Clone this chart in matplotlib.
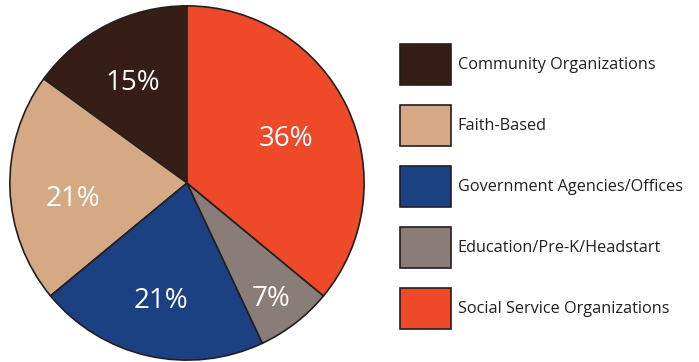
import matplotlib.pyplot as plt
import numpy as np

# data (legend order)
labels = ["Community Organizations", "Faith-Based", "Government Agencies/Offices",
          "Education/Pre-K/Headstart", "Social Service Organizations"]
shares = [15, 21, 21, 7, 36]
colors = ["#361d16", "#d6a985", "#1c4183", "#8a7d78", "#ee4a29"]

# where each percent label sits: fraction of radius, turn from slice middle (deg)
label_dist = [0.64, 0.65, 0.68, 0.81, 0.61]
label_turn = [1.5, 6.0, 0.3, -1.8, -1.2]

plt.rcParams['font.family'] = ['Open Sans', 'DejaVu Sans']

fig = plt.figure(figsize=(6.99, 3.62), dpi=100)
ax = fig.add_axes([9 / 699, 1 / 362, 356 / 699, 356 / 362])

wedges, texts, pcts = ax.pie(shares, colors=colors, startangle=90, counterclock=True,
                             autopct="%d%%", pctdistance=0.63, radius=1,
                             wedgeprops=dict(edgecolor="#231f20", linewidth=1.2),
                             textprops=dict(color="white", fontsize=20))
for w, t, d, turn in zip(wedges, pcts, label_dist, label_turn):
    mid = np.deg2rad((w.theta1 + w.theta2) / 2 + turn)
    t.set_position((d * np.cos(mid), d * np.sin(mid)))

ax.set_xlim(-1.005, 1.005)
ax.set_ylim(-1.005, 1.005)
ax.set_aspect("equal")

fig.legend(wedges, labels, loc="upper left", bbox_to_anchor=(400 / 699, 1 - 44 / 362),
           frameon=False, borderpad=0, borderaxespad=0, fontsize=11.7,
           handlelength=3.14, handleheight=3.5, handletextpad=0.42, labelspacing=1.23,
           labelcolor="#231f20")

fig.savefig("out.png", dpi=100)
